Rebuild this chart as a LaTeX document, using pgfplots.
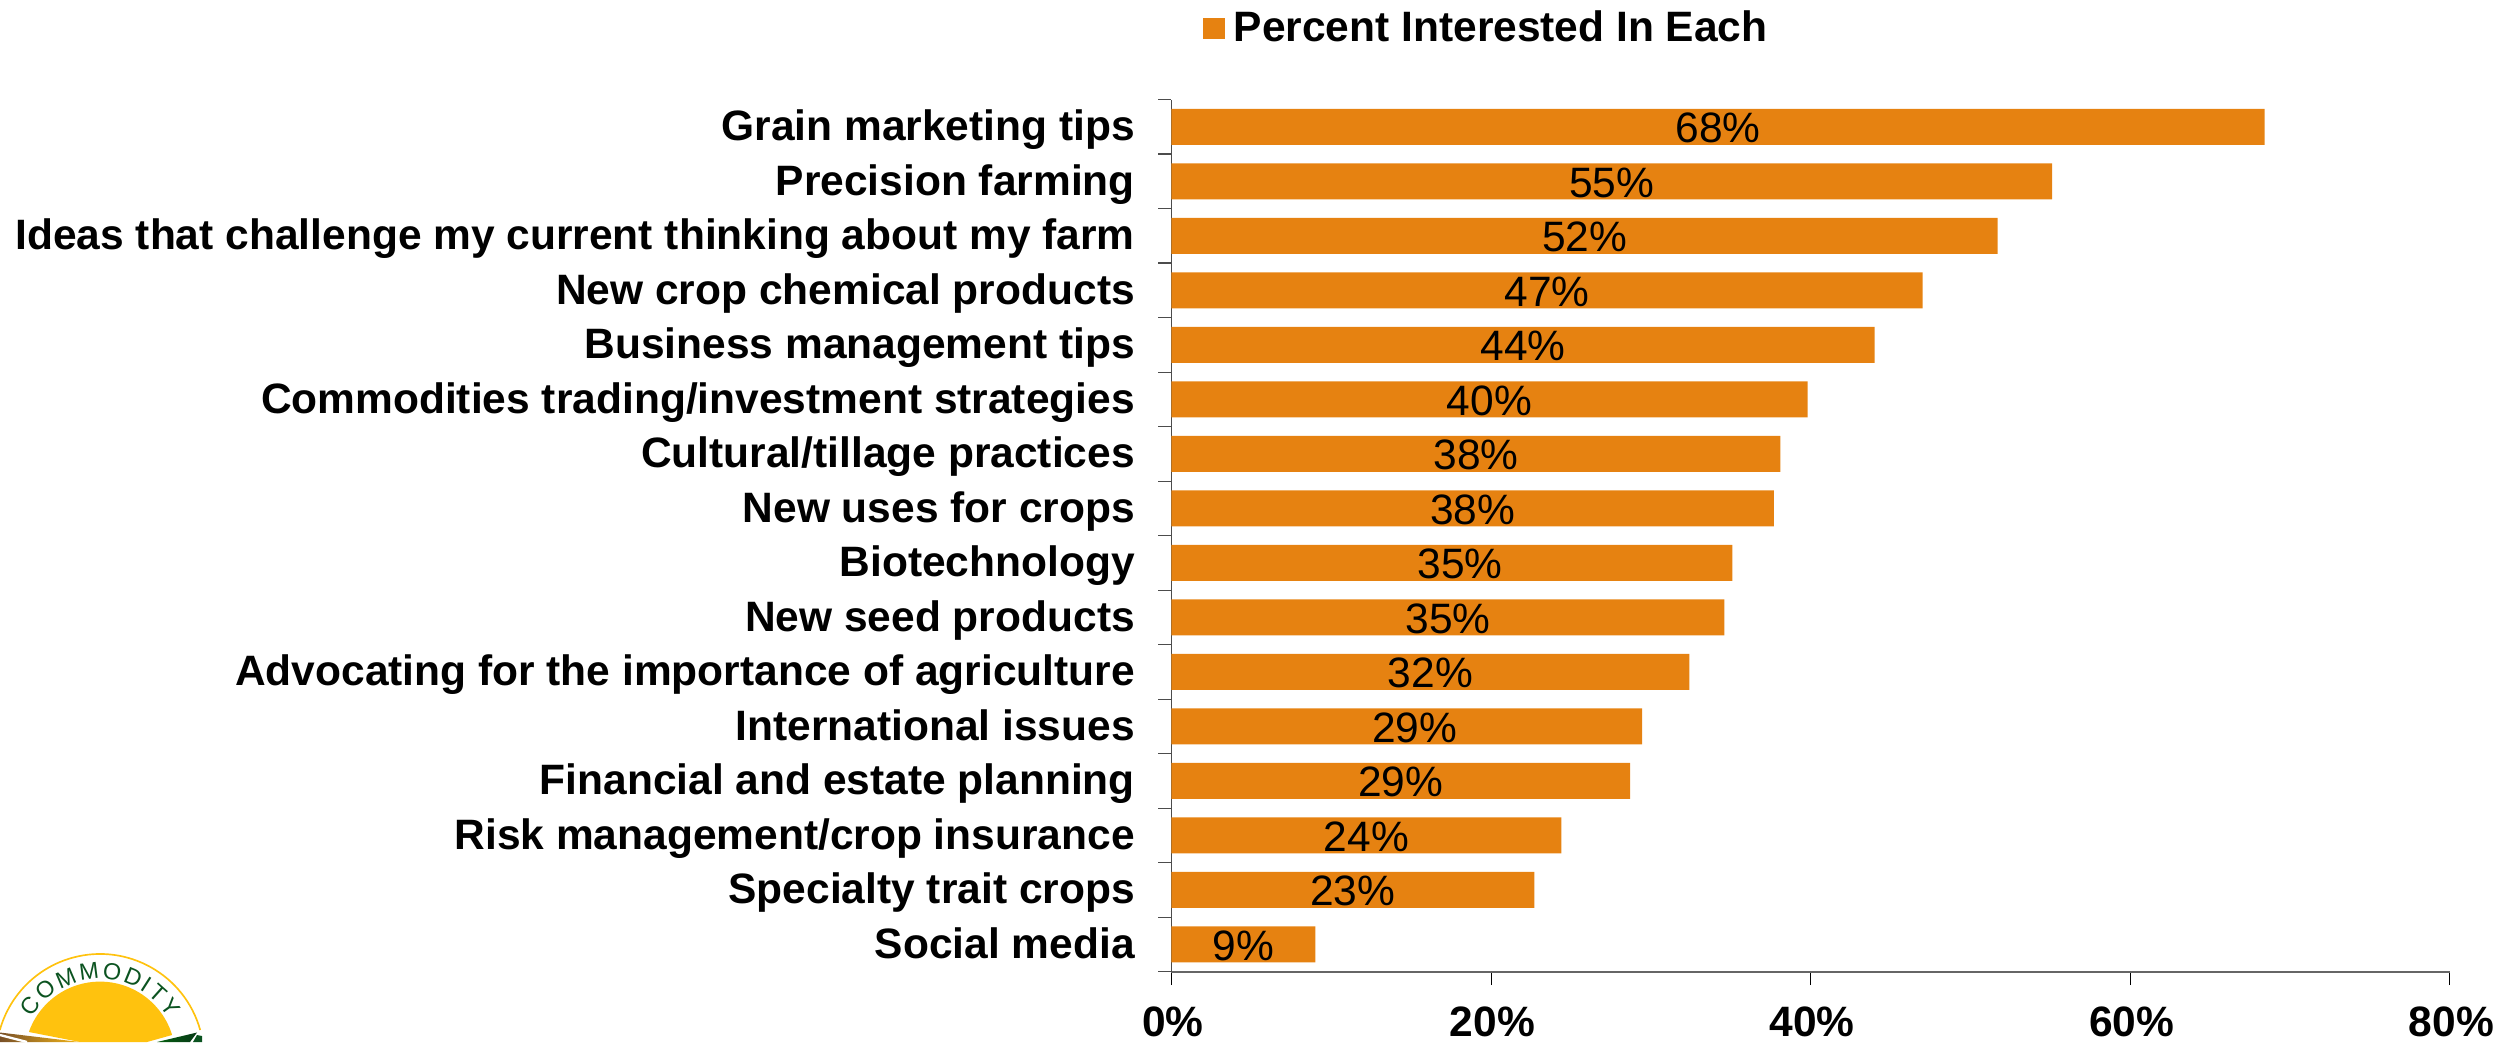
\documentclass[border=0pt]{standalone}
\usepackage{fontspec}
\setmainfont{Liberation Sans}
\usepackage{pgfplots}
\usepackage{pgfplotstable}
\pgfplotsset{compat=1.18}
\usetikzlibrary{decorations.text}

\definecolor{barorange}{HTML}{E68211}
\definecolor{sungold}{HTML}{FFC20E}
\definecolor{leafgreen}{HTML}{0B5320}

% row: vertical position (top row = 15), v: share of respondents in percent,
% d: sideways nudge of the value label in percentage points
\pgfplotstableread{
row v d
15 68.4 0
14 55.1 0
13 51.7 0
12 47.0 0
11 44.0 0
10 39.8 0
9 38.1 0
8 37.7 0
7 35.1 0.5
6 34.6 0
5 32.4 0
4 29.45 0.5
3 28.7 0
2 24.4 0
1 22.7 0
0 9.0 0
}\interest

\begin{document}
\begin{tikzpicture}[x=0.3pt,y=0.3pt]
\useasboundingbox (0,0) rectangle (2501,1042);

% Organisation logo in the lower left corner, cut off by the page edge
\begin{scope}
\clip (0,0) rectangle (300,120);
\draw[sungold,line width=0.5pt] (200.2,12) arc[start angle=15.6,end angle=164.4,radius=104];
\begin{scope}
\clip (29,10) -- (80,0) -- (147,0) -- (172,7) -- (172,80) -- (29,80) -- cycle;
\fill[sungold] (100,-15) circle[radius=75.4];
\end{scope}
\path[shade,left color=black!10!brown!70!black,right color=sungold!80!brown]
  (0,9.5) -- (80,0) -- (0,0) -- cycle;
\draw[white,line width=0.7pt] (0,7) -- (27,0);
\path[shade,left color=leafgreen!70!green!70!black,right color=leafgreen!70!black]
  (157,0) -- (197,9.5) -- (190,0) -- cycle;
\fill[leafgreen] (197,7) -- (202,6) -- (202,0) -- (193,0) -- cycle;
\path[decorate,decoration={text along path,text align={fit to path},
  text={|\fontsize{7.0}{8}\selectfont\color{leafgreen}|COMMODITY}}]
  (100,-16) ++(149:79) arc[start angle=149,end angle=30,radius=79];
\end{scope}

\begin{axis}[
  at={(351.45pt,21.09pt)},
  anchor=south west,
  scale only axis,
  width=383.55pt,
  height=261.66pt,
  xmin=0, xmax=80,
  ymin=-0.5, ymax=15.5,
  axis lines*=left,
  x axis line style={-,draw=black!60,line width=0.5pt},
  y axis line style={-,draw=black!70,line width=0.35pt},
  tick align=outside,
  xtick={0,20,40,60,80},
  major tick length=4pt,
  minor tick length=4pt,
  xtick style={draw=black,line width=0.3pt},
  ytick={0,...,15},
  yticklabels={Social media,Specialty trait crops,Risk management/crop insurance,
    Financial and estate planning,International issues,
    Advocating for the importance of agriculture,New seed products,Biotechnology,
    New uses for crops,Cultural/tillage practices,Commodities trading/investment strategies,
    Business management tips,New crop chemical products,
    Ideas that challenge my current thinking about my farm,Precision farming,Grain marketing tips},
  minor ytick={-0.5,0.5,...,15.5},
  major y tick style={draw=none},
  minor y tick style={draw=black!70,line width=0.35pt},
  yticklabel style={font=\fontsize{12.75}{15}\selectfont\bfseries,anchor=east,inner sep=0pt,
    text height=9.2pt,text depth=2.7pt,xshift=-6.8pt,yshift=-0.95pt},
  xticklabel style={font=\fontsize{12.75}{15}\selectfont\bfseries,inner sep=0pt,yshift=-6.2pt,xshift=0.4pt,
    /pgf/number format/assume math mode=true},
  xticklabel={\pgfmathprintnumber{\tick}\%},
  legend style={at={(axis description cs:0.025,1.0815)},anchor=west,draw=none,fill=none,
    inner sep=0pt,outer sep=0pt,
    font=\fontsize{12.75}{15}\selectfont\bfseries,
    /tikz/every even column/.append style={column sep=0pt}},
  legend cell align=left,
  clip=false,
]
\addplot[xbar,bar width=10.8pt,bar shift=0pt,fill=barorange,draw=none,
  legend image code/.code={\fill[barorange] (0pt,-3.25pt) rectangle (6.4pt,3.25pt);
    \path (7.1pt,0pt);}]
  table[x=v,y=row] {\interest};
\addlegendentry{Percent Interested In Each}

% Value labels, rounded to whole percent, centred along each bar
\addplot[only marks,mark=none,forget plot,
  point meta=explicit,
  nodes near coords={\pgfmathprintnumber[fixed,precision=0,assume math mode=true]{\pgfplotspointmeta}\%},
  every node near coord/.style={anchor=center,inner sep=0pt,yshift=-0.4pt,black,
    font=\fontsize{12.75}{15}\selectfont}]
  table[x expr=\thisrow{v}/2+\thisrow{d},y=row,meta=v] {\interest};
\end{axis}
\end{tikzpicture}
\end{document}
